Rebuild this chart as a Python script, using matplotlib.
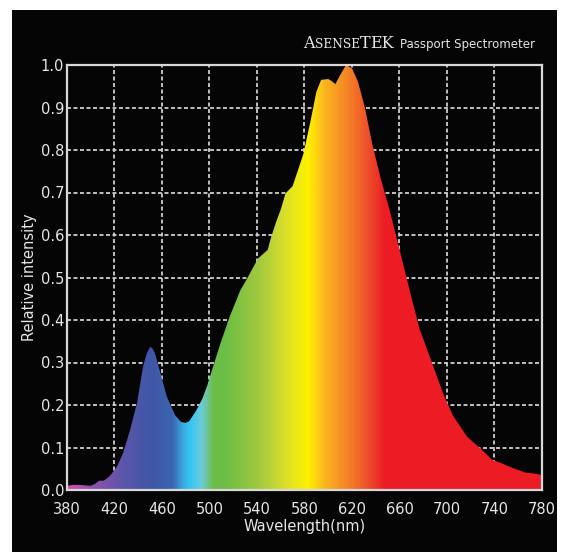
import numpy as np
import matplotlib
matplotlib.use('Agg')
from matplotlib import pyplot as plt
from matplotlib.colors import LinearSegmentedColormap, to_rgb
from matplotlib.patches import Rectangle

# spectrum
wavelength = [380, 385, 390, 395, 400, 404, 407, 411, 414, 417, 422, 427, 433,
              439, 444, 447, 450, 452, 454, 458, 464, 471, 476, 480, 483, 489,
              494, 498, 503, 509, 517, 526, 531, 536, 541, 549, 552, 556, 560,
              564, 570, 579, 585, 590, 594, 600, 603, 606, 610, 615, 620, 625,
              631, 637, 644, 652, 660, 669, 677, 686, 697, 705, 717, 728, 738,
              745, 756, 766, 773, 780]
intensity = [0.010, 0.012, 0.012, 0.011, 0.010, 0.015, 0.022, 0.022, 0.028,
             0.036, 0.055, 0.085, 0.140, 0.205, 0.290, 0.320, 0.337, 0.333,
             0.322, 0.282, 0.220, 0.176, 0.160, 0.158, 0.162, 0.188, 0.215,
             0.245, 0.290, 0.343, 0.408, 0.470, 0.494, 0.520, 0.545, 0.565,
             0.596, 0.630, 0.660, 0.698, 0.715, 0.790, 0.867, 0.937, 0.965,
             0.967, 0.962, 0.955, 0.976, 1.000, 0.992, 0.961, 0.898, 0.815,
             0.735, 0.655, 0.566, 0.465, 0.378, 0.310, 0.225, 0.175, 0.125,
             0.098, 0.071, 0.064, 0.051, 0.041, 0.039, 0.035]

# fill colour by wavelength
color_nm = [380, 400, 428, 450, 468, 477, 483, 493, 503, 512, 542, 563, 583,
            597, 618, 635, 648, 780]
color_hex = ['#d14fae', '#9251ad', '#5a55aa', '#3f56a6', '#3c64b0', '#3aa8e0',
             '#35c6f2', '#6ccbdc', '#6dbe46', '#6abd45', '#a3c93e', '#d8df2c',
             '#fff200', '#fbb61f', '#f47f26', '#ee4b2b', '#ed1c24', '#ed1c24']

xticks = np.arange(380, 781, 40)
yticks = np.arange(0, 1.01, 0.1)

fg = '#e6e6e6'
fig = plt.figure(figsize=(5.67, 5.52), dpi=100, facecolor='white')
fig.patches.append(Rectangle((12/567, 0), 545/567, 542/552, transform=fig.transFigure,
                             facecolor='#050505', edgecolor='none', zorder=-5))

ax = fig.add_axes([67/567, 62/552, 475/567, 425/552])
ax.set_facecolor('#050505')

pos = [(n - 380) / 400 for n in color_nm]
cmap = LinearSegmentedColormap.from_list('spec', list(zip(pos, [to_rgb(c) for c in color_hex])))
grad = np.linspace(0, 1, 800).reshape(1, -1)
img = ax.imshow(grad, cmap=cmap, aspect='auto', extent=[380, 780, 0, 1], zorder=2,
                interpolation='bilinear')
poly = ax.fill_between(wavelength, intensity, 0, facecolor='none', edgecolor='none')
clip = poly.get_paths()[0]
img.set_clip_path(clip, transform=ax.transData)

ax.set_xlim(380, 780)
ax.set_ylim(0, 1.0)
ax.set_xticks(xticks)
ax.set_yticks(yticks)
ax.set_yticklabels(['%.1f' % v for v in yticks])
ax.grid(True, color='#cfcfcf', linestyle=(0, (2.2, 1.4)), linewidth=1.3, zorder=1)
ax.set_axisbelow(True)
ax.tick_params(colors=fg, labelsize=10.5, length=0, pad=2)
ax.tick_params(axis='x', pad=9)
for s in ax.spines.values():
    s.set_color('#d8d8d8')
    s.set_linewidth(1.6)
    s.set_zorder(3)

ax.set_xlabel('Wavelength(nm)', color=fg, fontsize=10.5, labelpad=1)
ax.set_ylabel('Relative intensity', color=fg, fontsize=10.5, labelpad=3)

# brand line, top right
fig.canvas.draw()
r = fig.canvas.get_renderer()
x = 535 / 567
yb = (552 - 48) / 552
parts = [('Passport Spectrometer', 'DejaVu Sans', 8.5, 6),
         ('EK', 'DejaVu Serif', 11.5, 0),
         ('T', 'DejaVu Serif', 11.5, 0),
         ('SENSE', 'DejaVu Serif', 8.8, 0),
         ('A', 'DejaVu Serif', 11.5, 0)]
for s, fam, size, gap in parts:
    t = fig.text(x, yb, s, color=fg, fontsize=size, family=fam,
                 ha='right', va='baseline')
    w = t.get_window_extent(r).width / fig.bbox.width
    x -= w + gap / 567

fig.savefig('out.png', dpi=100, facecolor='white')
